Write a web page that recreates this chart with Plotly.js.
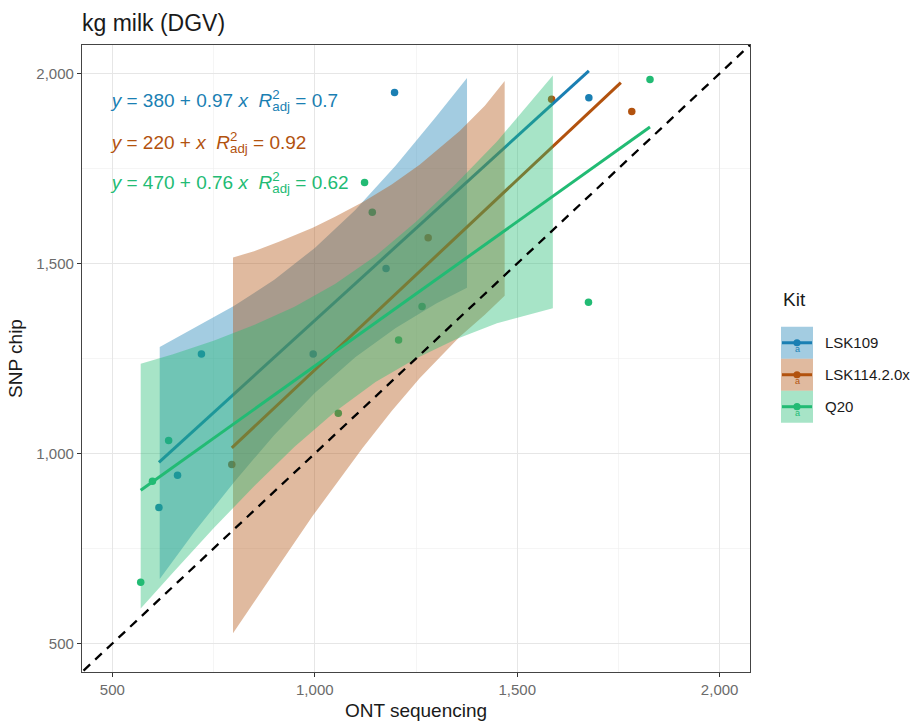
<!DOCTYPE html>
<html>
<head>
<meta charset="utf-8">
<script src="https://cdn.plot.ly/plotly-3.0.1.min.js"></script>
<style>html,body{margin:0;padding:0;background:#fff}</style>
</head>
<body>
<div id="chart" style="width:919px;height:724px"></div>
<script>
// Sequencing kits
const kits = ["LSK109", "LSK114.2.0x", "Q20"];
const kitColors = ["#1a7fb3", "#b2520e", "#22bb74"];

// Breeding values (kg milk, DGV): ONT sequencing vs SNP chip, per kit
const lsk109Ont = [615, 661, 720, 996, 1176, 1197, 1677];
const lsk109Snp = [858, 943, 1262, 1262, 1487, 1950, 1936];
const lsk114Ont = [795, 1280, 1585, 1783];
const lsk114Snp = [971, 1568, 1932, 1900];
const q20Ont = [570, 599, 639, 1058, 1123, 1142, 1207, 1265, 1676, 1828];
const q20Snp = [661, 927, 1034, 1106, 1713, 1635, 1299, 1387, 1398, 1984];

// Fitted regressions: y = intercept + slope * x, adjusted R2, x extent
const intercepts = [380, 220, 470];
const slopes = [0.97, 1, 0.76];
const r2adj = ["0.7", "0.92", "0.62"];
const fitFrom = [615, 795, 570];
const fitTo = [1677, 1756, 1828];

// Confidence bands of the fits
const lsk109BandX = [617, 700, 800, 900, 1000, 1100, 1200, 1300, 1376];
const lsk109BandLo = [670, 790, 924, 1049, 1159, 1253, 1330, 1395, 1436];
const lsk109BandHi = [1280, 1328, 1388, 1457, 1541, 1641, 1758, 1887, 1988];
const lsk114BandX = [798, 850, 913, 995, 1050, 1119, 1190, 1259, 1358, 1420, 1469];
const lsk114BandLo = [527, 608, 708, 836, 917, 1016, 1112, 1198, 1307, 1365, 1415];
const lsk114BandHi = [1516, 1532, 1558, 1594, 1623, 1662, 1708, 1760, 1849, 1915, 1980];
const q20BandX = [570, 650, 750, 850, 950, 1050, 1150, 1250, 1350, 1450, 1588];
const q20BandLo = [592, 687, 803, 914, 1018, 1110, 1188, 1250, 1301, 1343, 1382];
const q20BandHi = [1236, 1261, 1297, 1338, 1386, 1446, 1520, 1610, 1711, 1821, 1995];

// 1:1 reference line
const identity = [400, 2100];

// Axis ticks
const tickValues = [500, 1000, 1500, 2000];
const tickText = ["500", "1,000", "1,500", "2,000"];

const FONT = "'Liberation Sans', Arial, Helvetica, sans-serif";

function rgba(hex, a) {
  const n = parseInt(hex.slice(1), 16);
  return `rgba(${(n >> 16) & 255},${(n >> 8) & 255},${n & 255},${a})`;
}

const pointsX = [lsk109Ont, lsk114Ont, q20Ont];
const pointsY = [lsk109Snp, lsk114Snp, q20Snp];
const bandX = [lsk109BandX, lsk114BandX, q20BandX];
const bandLo = [lsk109BandLo, lsk114BandLo, q20BandLo];
const bandHi = [lsk109BandHi, lsk114BandHi, q20BandHi];

const traces = [];

// points first, so the bands tint them
kits.forEach((k, i) => {
  traces.push({
    type: "scatter", mode: "markers", name: k,
    x: pointsX[i], y: pointsY[i],
    marker: { color: kitColors[i], size: 7.5, line: { width: 0 } },
    showlegend: false, hoverinfo: "skip"
  });
});

// band + fitted line per kit
kits.forEach((k, i) => {
  const bx = bandX[i].concat(bandX[i].slice().reverse());
  const by = bandHi[i].concat(bandLo[i].slice().reverse());
  traces.push({
    type: "scatter", mode: "lines", x: bx, y: by,
    fill: "toself", fillcolor: rgba(kitColors[i], 0.4),
    line: { width: 0 }, showlegend: false, hoverinfo: "skip"
  });
  const lx = [fitFrom[i], fitTo[i]];
  traces.push({
    type: "scatter", mode: "lines", x: lx,
    y: lx.map(v => intercepts[i] + slopes[i] * v),
    line: { color: kitColors[i], width: 3 },
    showlegend: false, hoverinfo: "skip"
  });
});

// dashed 1:1 line
traces.push({
  type: "scatter", mode: "lines", x: identity, y: identity,
  line: { color: "#000000", width: 2.3, dash: "9px,7px" },
  showlegend: false, hoverinfo: "skip"
});

// equation labels
const eqY = [0.912, 0.845, 0.780];
const annotations = kits.map((k, i) => {
  const slopeTxt = slopes[i] === 1 ? "" : slopes[i] + " ";
  return {
    xref: "paper", yref: "paper", x: 0.0335, y: eqY[i],
    xanchor: "left", yanchor: "middle", showarrow: false,
    text: `<i>y</i> = ${intercepts[i]} + ${slopeTxt}<i>x</i>  <i>R</i><sup>2</sup><sub>adj</sub> = ${r2adj[i]}`,
    font: { family: FONT, size: 19, color: kitColors[i] }
  };
});

// legend (drawn by hand: filled key, line with point, text glyph)
const L = 82, R = 750, T = 45, B = 672.5;
const px = v => (v - L) / (R - L);
const py = v => (B - v) / (B - T);
const shapes = [];
const keyL = 781, keyR = 813, keyTop = 327, keyH = 32;
annotations.push({
  xref: "paper", yref: "paper", x: px(781), y: py(300),
  xanchor: "left", yanchor: "middle", showarrow: false,
  text: "Kit", font: { family: FONT, size: 19, color: "#1a1a1a" }
});
kits.forEach((k, i) => {
  const top = keyTop + i * keyH, mid = top + keyH / 2;
  shapes.push({
    type: "rect", xref: "paper", yref: "paper",
    x0: px(keyL), x1: px(keyR), y0: py(top), y1: py(top + keyH),
    fillcolor: rgba(kitColors[i], 0.4), line: { width: 0 }
  });
  shapes.push({
    type: "line", xref: "paper", yref: "paper",
    x0: px(keyL + 1), x1: px(keyR - 1), y0: py(mid), y1: py(mid),
    line: { color: kitColors[i], width: 3 }
  });
  shapes.push({
    type: "circle", xref: "paper", yref: "paper",
    x0: px((keyL + keyR) / 2 - 3.6), x1: px((keyL + keyR) / 2 + 3.6),
    y0: py(mid - 3.6), y1: py(mid + 3.6),
    fillcolor: kitColors[i], line: { width: 0 }
  });
  annotations.push({
    xref: "paper", yref: "paper", x: px((keyL + keyR) / 2), y: py(mid + 6),
    xanchor: "center", yanchor: "middle", showarrow: false,
    text: "a", font: { family: FONT, size: 9, color: kitColors[i] }
  });
  annotations.push({
    xref: "paper", yref: "paper", x: px(823), y: py(mid),
    xanchor: "left", yanchor: "middle", showarrow: false,
    text: k, font: { family: FONT, size: 15, color: "#1a1a1a" }
  });
});

const axisCommon = {
  tickmode: "array", tickvals: tickValues, ticktext: tickText,
  ticks: "outside", ticklen: 4, tickwidth: 1.1, tickcolor: "#333333",
  tickfont: { family: FONT, size: 15, color: "#6b6b6b" },
  showgrid: true, gridcolor: "#e6e6e6", gridwidth: 1.2,
  minor: { tickmode: "linear", tick0: 250, dtick: 500, showgrid: true, gridcolor: "#eeeeee", gridwidth: 0.6, ticks: "" },
  zeroline: false, showline: true, mirror: true, linecolor: "#444444", linewidth: 1.1,
  range: [425, 2075], fixedrange: true
};

const layout = {
  width: 919, height: 724,
  margin: { l: L, r: 919 - R, t: T, b: 724 - B },
  paper_bgcolor: "#ffffff", plot_bgcolor: "#ffffff",
  font: { family: FONT, color: "#1a1a1a" },
  showlegend: false, hovermode: false,
  title: {
    text: "kg milk (DGV)", x: 0, xref: "paper", xanchor: "left",
    y: 0.968, yref: "container", yanchor: "middle",
    font: { family: FONT, size: 23, color: "#1a1a1a" }
  },
  xaxis: Object.assign({}, axisCommon, {
    title: { text: "ONT sequencing", font: { family: FONT, size: 19, color: "#1a1a1a" }, standoff: 6 }
  }),
  yaxis: Object.assign({}, axisCommon, {
    title: { text: "SNP chip", font: { family: FONT, size: 19, color: "#1a1a1a" }, standoff: 8 }
  }),
  annotations: annotations, shapes: shapes
};

Plotly.newPlot("chart", traces, layout, { staticPlot: true, displayModeBar: false }).then(() => {
  // stack the "adj" subscript under the superscript 2
  document.querySelectorAll("#chart .annotation-text").forEach(t => {
    const spans = Array.from(t.querySelectorAll("tspan"));
    const sup = spans.find(s => s.textContent === "2");
    const sub = spans.find(s => s.textContent === "adj");
    if (sup && sub) sub.setAttribute("dx", -sup.getComputedTextLength());
  });
});
</script>
</body>
</html>
